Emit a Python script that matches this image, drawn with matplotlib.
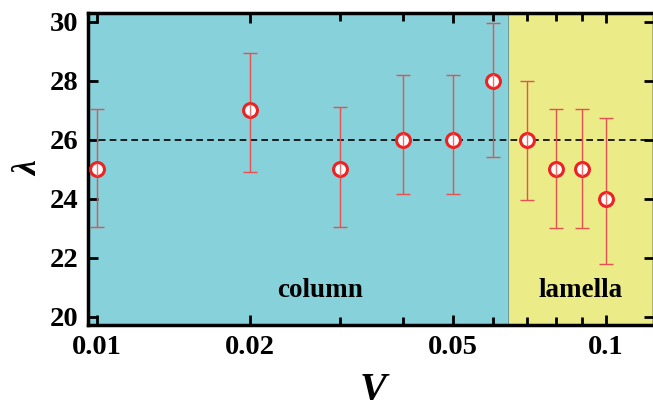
import matplotlib
matplotlib.use("Agg")
import matplotlib.pyplot as plt
from matplotlib.ticker import FixedLocator, NullFormatter

# lambda versus V, with the column / lamella phase regions
v = [0.01, 0.02, 0.03, 0.04, 0.05, 0.06, 0.07, 0.08, 0.09, 0.1]
lam = [25, 27, 25, 26, 26, 28, 26, 25, 25, 24]
lam_lo = [23.05, 24.9, 23.05, 24.15, 24.15, 25.4, 23.95, 23.0, 23.0, 21.8]
lam_hi = [27.05, 28.95, 27.1, 28.2, 28.2, 29.95, 28.0, 27.05, 27.05, 26.75]
phase_edges = [0.0096, 0.0644, 0.125]
phase_names = ["column", "lamella"]
phase_label_x = [0.0275, 0.0893]
phase_colors = ["#87d1da", "#ebeb87"]
lam_mean = 26
xticks = [0.01, 0.02, 0.05, 0.1]
xtick_labels = ["0.01", "0.02", "0.05", "0.1"]
yticks = [20, 22, 24, 26, 28, 30]

plt.rcParams["font.family"] = ["Liberation Serif", "DejaVu Serif"]
plt.rcParams["font.weight"] = "bold"

fig = plt.figure(figsize=(6.53, 4.0), dpi=100)
ax = fig.add_axes([88 / 653, 75 / 400, 566 / 653, 312 / 400])

for i, name in enumerate(phase_names):
    ax.axvspan(phase_edges[i], phase_edges[i + 1], color=phase_colors[i], zorder=0)
    ax.text(phase_label_x[i], 20.9, name, ha="center", va="center",
            fontsize=19.5, fontweight="bold")
ax.axvline(phase_edges[1], color="#6f9a9a", lw=0.8, zorder=1)

ax.axhline(lam_mean, color="black", ls=(0, (4, 2.5)), lw=1.2, zorder=2)

yerr = [[m - lo for m, lo in zip(lam, lam_lo)], [hi - m for m, hi in zip(lam, lam_hi)]]
ax.errorbar(v, lam, yerr=yerr, fmt="none", ecolor="#e85050", elinewidth=1.0,
            capsize=4.7, capthick=1.0, zorder=3)
ax.plot(v, lam, "o", ms=10, mfc="white", mec="#ee2222", mew=2.2, zorder=4)
ax.vlines(v, [m - 0.22 for m in lam], [m + 0.22 for m in lam],
          color="#f07070", lw=1.0, zorder=5)

ax.set_xscale("log")
ax.set_xlim(phase_edges[0], 0.1245)
ax.set_ylim(19.72, 30.3)
ax.xaxis.set_major_locator(FixedLocator(xticks))
ax.xaxis.set_minor_locator(FixedLocator([0.03, 0.04, 0.06, 0.07, 0.08, 0.09]))
ax.xaxis.set_minor_formatter(NullFormatter())
ax.set_xticks(xticks)
ax.set_xticklabels(xtick_labels)
ax.set_yticks(yticks)

ax.tick_params(which="both", direction="in", top=True, right=True,
               labelsize=20.5, width=2, pad=7)
ax.tick_params(which="major", length=7)
ax.tick_params(which="minor", length=6)
for s in ax.spines.values():
    s.set_linewidth(2.5)

ax.set_xlabel("V", fontsize=29, fontstyle="italic", fontweight="bold")
ax.xaxis.set_label_coords(0.504, -0.15)
ax.set_ylabel("λ", fontsize=24, fontstyle="italic", fontweight="bold",
              va="center")
ax.yaxis.set_label_coords(-0.105, 0.5)

fig.savefig("out.png", dpi=100)
